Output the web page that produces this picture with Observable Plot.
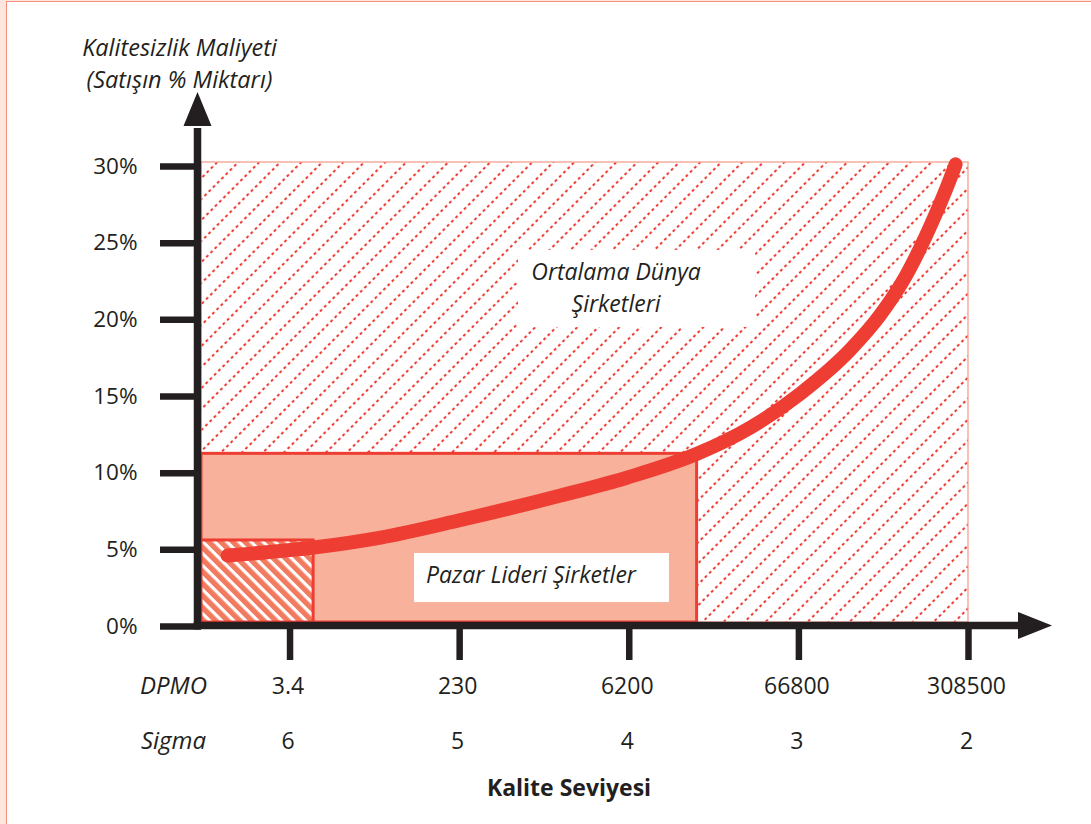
<!DOCTYPE html>
<html><head><meta charset="utf-8">
<script src="https://cdn.jsdelivr.net/npm/d3@7"></script>
<script src="https://cdn.jsdelivr.net/npm/@observablehq/plot@0.6"></script>
<style>
html,body{margin:0;padding:0;background:#fde6dd;width:1091px;height:824px;overflow:hidden;}
#frame{position:absolute;left:6px;top:1px;width:1100px;height:840px;background:#fff;border:1.5px solid #f7917b;box-sizing:border-box;}
#chart{position:absolute;left:0;top:0;}
</style></head><body><div id="frame"></div><div id="chart"></div>
<script>
// ---- data ----
const sigmaLevels = [6, 5, 4, 3, 2];
const dpmoLabels = ["3.4", "230", "6200", "66800", "308500"];
const yTicks = [0, 5, 10, 15, 20, 25, 30];
const xDomain = [6.522, 2];
const yDomain = [0, 30];
// cost-of-poor-quality curve (sigma level, % of sales)
const curveSigma = [6.368, 5.861, 5.466, 5.007, 4.405, 4.01, 3.597, 3.285, 2.99, 2.695, 2.518, 2.371, 2.223, 2.135, 2.076];
const curveCost  = [4.37, 4.89, 5.54, 6.65, 8.28, 9.46, 11.02, 12.72, 14.94, 17.81, 20.09, 22.57, 25.90, 28.18, 29.88];
// regions: worst sigma reached, max cost
const regionName  = ["Ortalama Dünya Şirketleri", "Pazar Lideri Şirketler", "Altı Sigma"];
const regionSigma = [2, 3.6, 5.861];
const regionCost  = [30, 11, 5.35];
// label boxes
const labelText   = ["Ortalama Dünya\nŞirketleri", "Pazar Lideri Şirketler"];
const labelSigma1 = [4.653, 5.266];
const labelSigma2 = [3.255, 3.763];
const labelCost1  = [24.27, 4.5];
const labelCost2  = [19.24, 1.3];

const ink = "#231f20";
const red = "#ee3e34";

const curve = curveSigma.map((s, i) => ({sigma: s, cost: curveCost[i]}));
const regions = regionName.map((n, i) => ({name: n, s1: xDomain[0], s2: regionSigma[i], c1: 0, c2: regionCost[i]}));
const labels = labelText.map((t, i) => ({text: t, s1: labelSigma1[i], s2: labelSigma2[i], c1: labelCost1[i], c2: labelCost2[i]}));
const ticksX = sigmaLevels.map((s, i) => ({sigma: s, dpmo: dpmoLabels[i]}));

function axisLines(index, scales, values, dims) {
  const xs = scales.x, ys = scales.y;
  const g = d3.create("svg:g");
  const left = dims.marginLeft - 3.5;
  const bottom = dims.height - dims.marginBottom + 3.5;
  const top = ys(yDomain[1]) - 36;
  const right = xs(xDomain[1]) + 50;
  g.append("line").attr("x1", left).attr("x2", left).attr("y1", bottom + 3.75).attr("y2", top + 2)
    .attr("stroke", ink).attr("stroke-width", 7.5);
  g.append("line").attr("x1", left - 3.75).attr("x2", right + 2).attr("y1", bottom).attr("y2", bottom)
    .attr("stroke", ink).attr("stroke-width", 7.5);
  g.append("path").attr("d", `M${left - 14},${top}L${left},${top - 34}L${left + 14},${top}Z`).attr("fill", ink);
  g.append("path").attr("d", `M${right},${bottom - 13.5}L${right + 34},${bottom}L${right},${bottom + 13.5}Z`).attr("fill", ink);
  return g.node();
}

const cx = d => (d.s1 + d.s2) / 2;
const cy = d => (d.c1 + d.c2) / 2;

const plot = Plot.plot({
  width: 1091,
  height: 824,
  marginLeft: 201,
  marginRight: 123,
  marginTop: 162,
  marginBottom: 202,
  style: {fontFamily: "'Open Sans', 'Noto Sans', sans-serif", fontSize: "23px", color: ink, background: "transparent", overflow: "visible"},
  x: {domain: xDomain},
  y: {domain: yDomain},
  marks: [
    // big hatched region
    Plot.rect(regions.slice(0, 1), {x1: "s1", x2: "s2", y1: "c1", y2: "c2", fill: "url(#hatchBig)", stroke: "#f4a090", strokeWidth: 1.3}),
    // white label box (upper)
    Plot.rect(labels.slice(0, 1), {x1: "s1", x2: "s2", y1: "c1", y2: "c2", fill: "white"}),
    // market leader region
    Plot.rect(regions.slice(1, 2), {x1: "s1", x2: "s2", y1: "c1", y2: "c2", fill: "#f8b19a", stroke: red, strokeWidth: 3}),
    // six sigma region
    Plot.rect(regions.slice(2, 3), {x1: "s1", x2: "s2", y1: "c1", y2: "c2", fill: "url(#hatchSmall)", stroke: red, strokeWidth: 3}),
    // lower label box
    Plot.rect(labels.slice(1, 2), {x1: "s1", x2: "s2", y1: "c1", y2: "c2", fill: "white"}),
    // curve
    Plot.line(curve, {x: "sigma", y: "cost", stroke: red, strokeWidth: 14, strokeLinecap: "round", strokeLinejoin: "round", curve: "monotone-x"}),
    // region labels
    Plot.text(labels.slice(0, 1), {x: cx, y: cy, text: "text", dx: -21, dy: -3, fontSize: 23, fontStyle: "italic", fill: ink, lineHeight: 1.37}),
    Plot.text(labels.slice(1, 2), {x: cx, y: cy, text: "text", dx: -11, dy: -2, fontSize: 23, fontStyle: "italic", fill: ink}),
    // axes
    Plot.axisY({ticks: yTicks, tickSize: 41, tickPadding: 23, strokeWidth: 6.5, stroke: ink, tickFormat: d => d + "%", fontSize: 22.5, dy: 4, label: null}),
    Plot.axisX({ticks: sigmaLevels, tickSize: 38, strokeWidth: 6.5, stroke: ink, tickFormat: () => "", label: null}),
    axisLines,
    // DPMO and Sigma rows
    Plot.text(ticksX, {x: "sigma", text: "dpmo", frameAnchor: "bottom", lineAnchor: "middle", dx: -2, dy: 64, fontSize: 23, fill: ink}),
    Plot.text(ticksX, {x: "sigma", text: d => String(d.sigma), frameAnchor: "bottom", lineAnchor: "middle", dx: -2, dy: 119, fontSize: 23, fill: ink}),
    Plot.text(["DPMO"], {frameAnchor: "bottom-left", textAnchor: "middle", lineAnchor: "middle", dx: -28, dy: 64, fontSize: 24, fontStyle: "italic", fill: ink}),
    Plot.text(["Sigma"], {frameAnchor: "bottom-left", textAnchor: "middle", lineAnchor: "middle", dx: -28, dy: 119, fontSize: 24, fontStyle: "italic", fill: ink}),
    // axis titles
    Plot.text(["Kalite Seviyesi"], {frameAnchor: "bottom", textAnchor: "middle", lineAnchor: "middle", dx: -16, dy: 166, fontSize: 23, fontWeight: "bold", fill: ink}),
    Plot.text(["Kalitesizlik Maliyeti\n(Satışın % Miktarı)"], {frameAnchor: "top-left", textAnchor: "middle", lineAnchor: "middle", dx: -22, dy: -101, fontSize: 23.5, fontStyle: "italic", fill: ink, lineHeight: 1.37})
  ]
});

// patterns
const defs = d3.select(plot).insert("defs", ":first-child");
const p1 = defs.append("pattern").attr("id", "hatchBig").attr("patternUnits", "userSpaceOnUse")
  .attr("width", 6).attr("height", 14.85).attr("patternTransform", "rotate(-45)");
p1.append("rect").attr("width", 6).attr("height", 14.85).attr("fill", "#fff");
p1.append("rect").attr("x", 0).attr("y", 0).attr("width", 2.8).attr("height", 2).attr("fill", "#ee3b33");
const p2 = defs.append("pattern").attr("id", "hatchSmall").attr("patternUnits", "userSpaceOnUse")
  .attr("width", 4).attr("height", 8.5).attr("patternTransform", "rotate(45)");
p2.append("rect").attr("width", 4).attr("height", 8.5).attr("fill", "#f27a5f");
p2.append("rect").attr("y", 0).attr("width", 4).attr("height", 3.2).attr("fill", "#fff");

document.getElementById("chart").appendChild(plot);
</script></body></html>
